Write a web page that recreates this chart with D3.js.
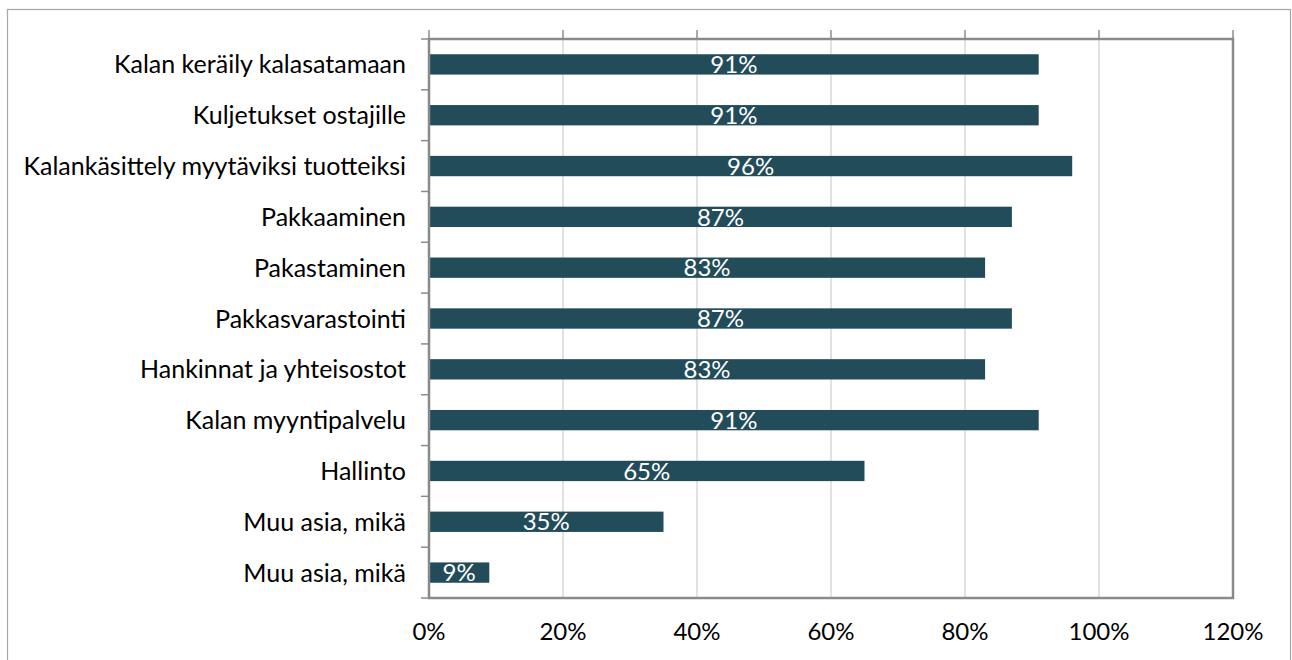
<!DOCTYPE html>
<html><head><meta charset="utf-8">
<script src="https://cdn.jsdelivr.net/npm/d3@7"></script>
<style>html,body{margin:0;padding:0;background:#fff;overflow:hidden}</style>
</head><body>
<svg id="c" width="1292" height="660"></svg>
<script>
const categories = ["Kalan keräily kalasatamaan","Kuljetukset ostajille","Kalankäsittely myytäviksi tuotteiksi","Pakkaaminen","Pakastaminen","Pakkasvarastointi","Hankinnat ja yhteisostot","Kalan myyntipalvelu","Hallinto","Muu asia, mikä","Muu asia, mikä"];
const values = [91,91,96,87,83,87,83,91,65,35,9];
const xTicks = [0,20,40,60,80,100,120];

const FONT = "Lato, 'Liberation Sans', sans-serif";
const FS = 24;
const FSC = 25;
const svg = d3.select("#c");
svg.append("rect").attr("x",7.5).attr("y",9.5).attr("width",1283).attr("height",700)
  .attr("fill","#fff").attr("stroke","#a6a6a6").attr("stroke-width",1.2);

const L=429, R=1233, T=39, B=598;
const x = d3.scaleLinear().domain([0,120]).range([L,R]);
const y = d3.scaleBand().domain(d3.range(categories.length)).range([T,B]).paddingInner(0.6).paddingOuter(0.3);
const yb = d3.scaleLinear().domain([0,categories.length]).range([T,B]);

// gridlines
svg.append("g").selectAll("line").data(xTicks).join("line")
  .attr("x1",d=>x(d)).attr("x2",d=>x(d)).attr("y1",T).attr("y2",B)
  .attr("stroke","#d9d9d9").attr("stroke-width",1.5);

// top ticks
svg.append("g").selectAll("line").data(xTicks).join("line")
  .attr("x1",d=>x(d)).attr("x2",d=>x(d)).attr("y1",T-9).attr("y2",T)
  .attr("stroke","#8c8c8c").attr("stroke-width",1.5);
// left ticks
svg.append("g").selectAll("line").data(d3.range(categories.length+1)).join("line")
  .attr("x1",L-8).attr("x2",L).attr("y1",d=>yb(d)).attr("y2",d=>yb(d))
  .attr("stroke","#8c8c8c").attr("stroke-width",1.5);

// bars
svg.append("g").selectAll("rect").data(values).join("rect")
  .attr("x",x(0)).attr("y",(d,i)=>y(i)).attr("width",d=>x(d)-x(0)).attr("height",y.bandwidth())
  .attr("fill","#234c5b");

// frame
svg.append("rect").attr("x",L).attr("y",T).attr("width",R-L).attr("height",B-T)
  .attr("fill","none").attr("stroke","#8a8a8a").attr("stroke-width",2.5);

// value labels
svg.append("g").selectAll("text").data(values).join("text")
  .attr("x",d=>(x(0)+x(d))/2).attr("y",(d,i)=>y(i)+y.bandwidth()/2+FS*0.36)
  .attr("text-anchor","middle").attr("fill","#fff")
  .style("font-family",FONT).style("font-size",FS+"px")
  .text(d=>d+"%");

// category labels
svg.append("g").selectAll("text").data(categories).join("text")
  .attr("x",406).attr("y",(d,i)=>y(i)+y.bandwidth()/2+FSC*0.36)
  .attr("text-anchor","end").attr("fill","#000")
  .style("font-family",FONT).style("font-size",FSC+"px")
  .text(d=>d);

// x tick labels
svg.append("g").selectAll("text").data(xTicks).join("text")
  .attr("x",d=>x(d)).attr("y",640)
  .attr("text-anchor","middle").attr("fill","#000")
  .style("font-family",FONT).style("font-size",FS+"px")
  .text(d=>d+"%");
</script>
</body></html>
